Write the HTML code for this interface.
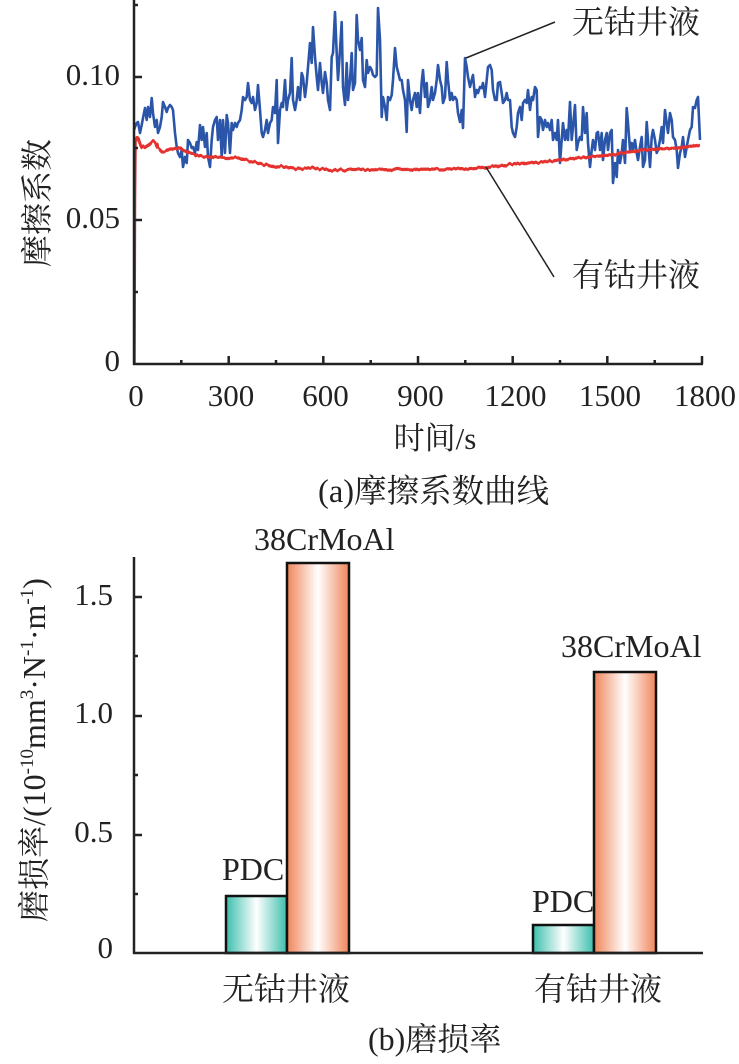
<!DOCTYPE html>
<html><head><meta charset="utf-8"><style>
html,body{margin:0;padding:0;background:#fff;}
svg{display:block;}
text{font-family:"Liberation Serif","Noto Serif CJK SC",serif;fill:#222;}
</style></head><body>
<svg width="739" height="1064" viewBox="0 0 739 1064" xmlns="http://www.w3.org/2000/svg">
<defs>
<linearGradient id="gT" x1="0" y1="0" x2="1" y2="0">
<stop offset="0" stop-color="#3cbfad"/><stop offset="0.5" stop-color="#ffffff"/><stop offset="1" stop-color="#3cbfad"/>
</linearGradient>
<linearGradient id="gO" x1="0" y1="0" x2="1" y2="0">
<stop offset="0" stop-color="#f0855a"/><stop offset="0.5" stop-color="#ffffff"/><stop offset="1" stop-color="#f0855a"/>
</linearGradient>
<filter id="jag" x="-5%" y="-20%" width="110%" height="140%">
<feTurbulence type="fractalNoise" baseFrequency="0.35 0.02" numOctaves="1" seed="3" result="n"/>
<feDisplacementMap in="SourceGraphic" in2="n" scale="4" xChannelSelector="R" yChannelSelector="G"/>
</filter>
</defs>

<!-- ===== Top chart ===== -->
<polyline fill="none" stroke="#2a55a8" stroke-width="2.6" stroke-linejoin="round" points="134,130 135,127 136.7,123 138,122 140,133 141.7,125 143,118 145,108 146.7,120 148,107 150,117 151.7,98 153,113 155,127 156.7,120 158,133 160,127 161.7,117 163,102 165,107 166.7,112 168,108 170,105 171.7,107 173,110 175,133 176.7,147 178,153 180,157 181.7,150 183,167 185,157 186.7,163 188,140 190,143 191.7,148 193,147 195,153 196.7,142 198,150 200,125 201.7,140 203,127 205,147 206.7,133 208,157 210,167 211.7,140 213,127 215,120 216.7,117 218,140 220,120 221.7,157 223,120 225,153 226.7,115 228,123 230,153 231.7,123 233,130 235,123 236.7,127 238,123 240,120 241.7,110 243,97 245,100 246.7,97 248,83 250,100 251.7,103 253,97 255,110 256.7,103 258,85 260,110 261.7,133 263,137 265,130 266.7,120 268,133 270,123 271.7,120 273,107 275,113 276.7,80 278,143 280,110 281.7,103 283,107 285,80 286.7,110 288,100 290,93 291.7,58 293,100 295,110 296.7,100 298,87 300,100 301.7,73 303,77 305,97 306.7,83 308,67 310,43 311.7,63 313,27 315,57 316.7,77 318,90 320,63 321.7,83 323,93 325,72 326.7,83 328,100 330,110 331.7,57 333,53 335,12 336.7,53 338,80 340,50 341.7,22 343,87 345,105 346.7,63 348,100 350,80 351.7,53 353,90 355,83 356.7,15 358,40 360,50 361.7,38 363,80 365,87 366.7,60 368,73 370,67 371.7,70 373,75 375,77 376.7,75 378,8 380,40 381.7,117 383,97 385,107 386.7,120 388,97 390,100 391.7,95 393,80 395,48 396.7,67 398,72 400,80 401.7,80 403,90 405,100 406.7,132 408,80 410,100 411.7,110 413,100 415,93 416.7,107 418,93 420,113 421.7,82 423,70 425,97 426.7,83 428,107 430,100 431.7,87 433,100 435,93 436.7,80 438,65 440,80 441.7,87 443,103 445,97 446.7,62 448,80 450,100 451.7,93 453,100 455,97 456.7,100 458,113 460,122 461.7,110 463,128 465,58 466.7,67 468,77 470,87 471.7,80 473,75 475,97 476.7,90 478,93 480,87 481.7,88 483,83 485,97 486.7,80 488,67 490,65 491.7,70 493,90 495,100 496.7,100 498,83 500,82 501.7,93 503,103 505,100 506.7,93 508,100 510,100 511.7,127 513,133 515,137 516.7,127 518,113 520,107 521.7,120 523,103 525,100 526.7,103 528,90 530,110 531.7,97 533,100 535,87 536.7,90 538,137 540,117 541.7,120 543,130 545,120 546.7,127 548,123 550,130 551.7,120 553,140 555,133 556.7,140 558,120 560,163 561.7,140 563,123 565,140 566.7,130 568,140 570,102 571.7,140 573,127 575,105 576.7,150 578,143 580,137 581.7,140 583,107 585,133 586.7,113 588,143 590,167 591.7,150 593,140 595,150 596.7,133 598,132 600,150 601.7,133 603,160 605,140 606.7,133 608,150 610,133 611.7,130 613,183 615,163 616.7,177 618,150 620,163 621.7,153 623,140 625,163 626.7,108 628,123 630,150 631.7,143 633,150 635,140 636.7,153 638,160 640,147 641.7,137 643,167 645,160 646.7,122 648,140 650,167 651.7,137 653,130 655,140 656.7,153 658,150 660,140 661.7,127 663,143 665,110 666.7,123 668,133 670,113 671.7,120 673,137 675,140 676.7,150 678,168 680,153 681.7,147 683,137 685,157 686.7,147 688,140 690,130 691.7,127 693,107 695,108 696.7,100 698,97 700,140"/>
<polyline fill="none" stroke="#c42a2a" stroke-width="2.5" points="134.5,364 135,200 135.5,140"/>
<polyline fill="none" stroke="#e5312f" stroke-width="3.2" stroke-linejoin="round" filter="url(#jag)" points="135.5,140 137,137 139,140 141,146 144,148 147,146 150,144 153,141 155,142 158,148 162,152 166,151 170,149 175,149 180,148 185,151 190,153 197,155 205,157 215,157 225,158 240,158 250,161 262,164 273,166 287,167 300,169 313,168 330,170 360,170 400,169.5 440,169 470,168.5 487,167 505,165 520,163.5 543,162 560,160 577,158 595,156.5 610,155 625,152.5 643,150 660,149 677,148 690,146.5 700,145"/>

<!-- axes top -->
<g stroke="#222" stroke-width="2.5" fill="none">
<line x1="134" y1="0" x2="134" y2="365"/>
<line x1="133" y1="364" x2="703" y2="364"/>
<line x1="134" y1="77" x2="142" y2="77"/>
<line x1="134" y1="220" x2="142" y2="220"/>
<line x1="134" y1="5" x2="138" y2="5"/>
<line x1="134" y1="148" x2="138" y2="148"/>
<line x1="134" y1="292" x2="138" y2="292"/>
<line x1="228.7" y1="364" x2="228.7" y2="356"/>
<line x1="323.3" y1="364" x2="323.3" y2="356"/>
<line x1="418" y1="364" x2="418" y2="356"/>
<line x1="512.7" y1="364" x2="512.7" y2="356"/>
<line x1="607.3" y1="364" x2="607.3" y2="356"/>
<line x1="702" y1="364" x2="702" y2="356"/>
<line x1="181.3" y1="364" x2="181.3" y2="360"/>
<line x1="276" y1="364" x2="276" y2="360"/>
<line x1="370.7" y1="364" x2="370.7" y2="360"/>
<line x1="465.3" y1="364" x2="465.3" y2="360"/>
<line x1="560" y1="364" x2="560" y2="360"/>
<line x1="654.7" y1="364" x2="654.7" y2="360"/>
</g>
<g stroke="#222" stroke-width="1.5">
<line x1="466" y1="58" x2="555" y2="22"/>
<line x1="486" y1="167" x2="554" y2="277"/>
</g>

<g font-size="31" text-anchor="end">
<text x="120" y="85">0.10</text>
<text x="120" y="228">0.05</text>
<text x="120" y="371">0</text>
</g>
<g font-size="31" text-anchor="middle">
<text x="136" y="406">0</text>
<text x="231" y="406">300</text>
<text x="325.5" y="406">600</text>
<text x="420.5" y="406">900</text>
<text x="515.5" y="406">1200</text>
<text x="610" y="406">1500</text>
<text x="705" y="406">1800</text>
</g>
<text x="572" y="33" font-size="32">无钴井液</text>
<text x="572" y="286" font-size="32">有钴井液</text>
<text x="435" y="449" font-size="31" text-anchor="middle">时间/s</text>
<text transform="translate(48,203) rotate(-90)" font-size="32" text-anchor="middle">摩擦系数</text>
<text x="318" y="502" font-size="32.5">(a)摩擦系数曲线</text>

<!-- ===== Bottom chart ===== -->
<text x="222" y="880" font-size="32">PDC</text>
<text x="532" y="912" font-size="32">PDC</text>
<g stroke="#111" stroke-width="2.5">
<rect x="226" y="896" width="61" height="57" fill="url(#gT)"/>
<rect x="287" y="563" width="62" height="390" fill="url(#gO)"/>
<rect x="533" y="925" width="61" height="28" fill="url(#gT)"/>
<rect x="594" y="672" width="62" height="281" fill="url(#gO)"/>
</g>
<g stroke="#222" stroke-width="2.5" fill="none">
<line x1="134" y1="557" x2="134" y2="954"/>
<line x1="133" y1="953" x2="703" y2="953"/>
<line x1="134" y1="835" x2="142" y2="835"/>
<line x1="134" y1="716" x2="142" y2="716"/>
<line x1="134" y1="597" x2="142" y2="597"/>
<line x1="134" y1="894" x2="138" y2="894"/>
<line x1="134" y1="775" x2="138" y2="775"/>
<line x1="134" y1="656" x2="138" y2="656"/>
</g>
<g font-size="31" text-anchor="end">
<text x="113" y="605">1.5</text>
<text x="113" y="723">1.0</text>
<text x="113" y="842">0.5</text>
<text x="113" y="958">0</text>
</g>
<text x="254" y="550" font-size="32">38CrMoAl</text>
<text x="561" y="657" font-size="32">38CrMoAl</text>
<text x="286" y="1000" font-size="32" text-anchor="middle">无钴井液</text>
<text x="598" y="1000" font-size="32" text-anchor="middle">有钴井液</text>
<text x="368" y="1050" font-size="32">(b)磨损率</text>
<text transform="translate(45,750) rotate(-90)" font-size="32" text-anchor="middle">磨损率/(10<tspan font-size="19" dy="-12">-10</tspan><tspan dy="12">mm</tspan><tspan font-size="19" dy="-12">3</tspan><tspan dy="12">·N</tspan><tspan font-size="19" dy="-12">-1</tspan><tspan dy="12">·m</tspan><tspan font-size="19" dy="-12">-1</tspan><tspan dy="12">)</tspan></text>
</svg>
</body></html>
